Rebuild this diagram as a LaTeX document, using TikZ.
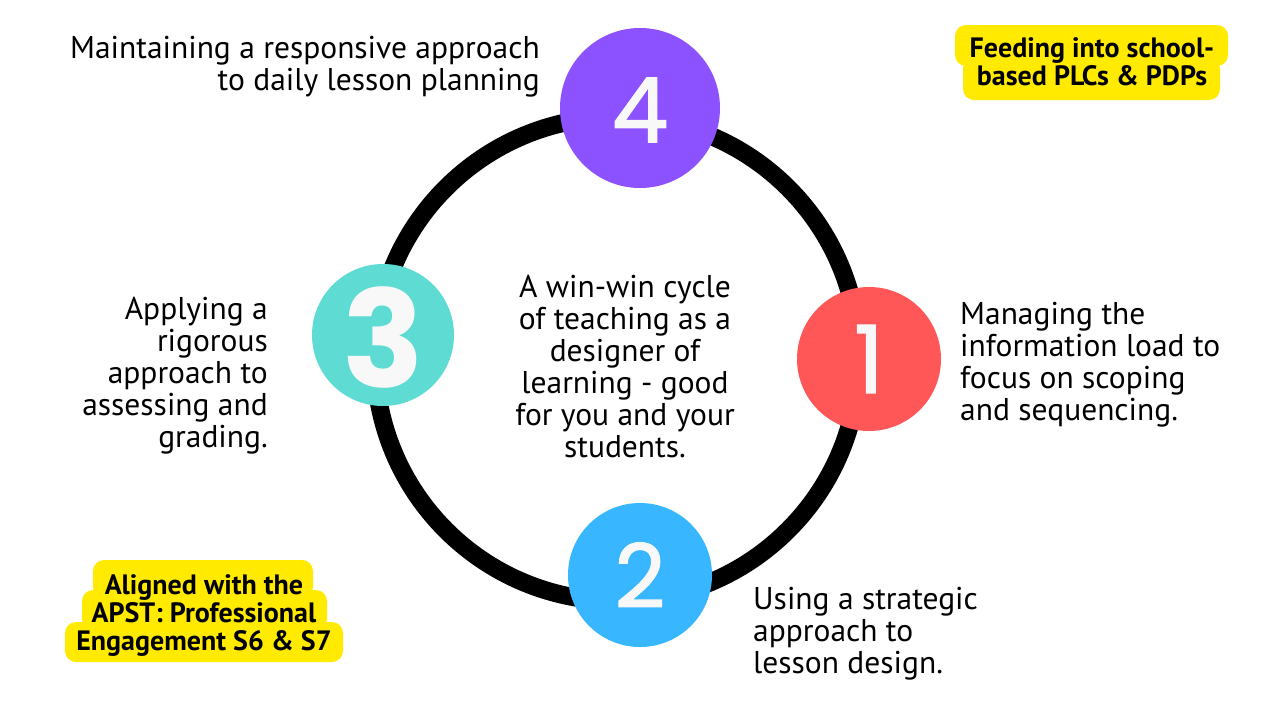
\documentclass[tikz,border=0pt]{standalone}
\usepackage{fontspec}
\setmainfont{PT Sans}
\newfontfamily\digitfont{Poppins}
\newfontfamily\digitmed{Poppins}[FakeBold=1.6]
\definecolor{cpurple}{HTML}{8C52FF}
\definecolor{cteal}{HTML}{5EDCD3}
\definecolor{cred}{HTML}{FF5757}
\definecolor{cblue}{HTML}{38B6FF}
\definecolor{cyellow}{HTML}{FFEA00}
\definecolor{cdigit}{HTML}{F8F8F8}
\tikzset{
  body/.style={inner sep=0pt, font=\fontsize{31.5}{32}\selectfont, text=black},
  tag/.style={inner sep=0pt, font=\fontsize{28}{28}\selectfont\bfseries, text=black, align=center},
  tagbg/.style={fill=cyellow, rounded corners=11pt},
  stepcircle/.style={circle, inner sep=0pt, minimum size=#1},
  digit/.style={inner sep=0pt, text=cdigit, font=\digitmed\fontsize{#1}{#1}\selectfont},
  bigdigit/.style={inner sep=0pt, text=cdigit, font=\digitfont\bfseries\fontsize{#1}{#1}\selectfont},
}
\begin{document}
\begin{tikzpicture}[x=1pt,y=-1pt]
\useasboundingbox[fill=white] (0,0) rectangle (1280,720);
% ring
\node[circle, draw=black, line width=18pt, minimum size=484pt, inner sep=0pt] (ring) at (617,359) {};
% step circles
\node[stepcircle=160pt, fill=cpurple] (c4) at (640,108) {};
\node[stepcircle=142pt, fill=cteal] (c3) at (383,335) {};
\node[stepcircle=144pt, fill=cred] (c1) at (869,359) {};
\node[stepcircle=144pt, fill=cblue] (c2) at (640,575) {};
\node[digit=90] (d4) at ([yshift=-2pt]c4.center) {4};
\node[bigdigit=135] (d3) at ([yshift=-2pt]c3.center) {3};
\node[digit=94] (d1) at (c1.center) {1};
\node[digit=88] (d2) at (c2.center) {2};
% texts (base anchor = baseline of last line)
\node[body, align=right, anchor=base east] (t4) at (540,90) {Maintaining a responsive approach\\to daily lesson planning};
\node[body, align=right, anchor=base east] (t3) at (268,447) {Applying a\\rigorous\\approach to\\assessing and\\grading.};
\node[body, align=left, anchor=base west] (t1) at (960,420) {Managing the\\information load to\\focus on scoping\\and sequencing.};
\node[body, align=left, anchor=base west] (t2) at (753,673) {Using a strategic\\approach to\\lesson design.};
\node[body, align=center, anchor=base] (tc) at (625,457) {A win-win cycle\\of teaching as a\\designer of\\learning - good\\for you and your\\students.};
% yellow tags
\fill[tagbg] (955,25) rectangle (1228,66);
\fill[tagbg] (963,58) rectangle (1220,100);
\node[tag, anchor=base] (tagtr) at (1092,85) {Feeding into school-\\based PLCs \& PDPs};
\fill[tagbg] (93,560) rectangle (313,598);
\fill[tagbg] (82,590) rectangle (327,630);
\fill[tagbg] (65,622) rectangle (343,662);
\node[tag, anchor=base] (tagbl) at (204,650) {Aligned with the\\APST: Professional\\Engagement S6 \& S7};
\end{tikzpicture}
\end{document}
